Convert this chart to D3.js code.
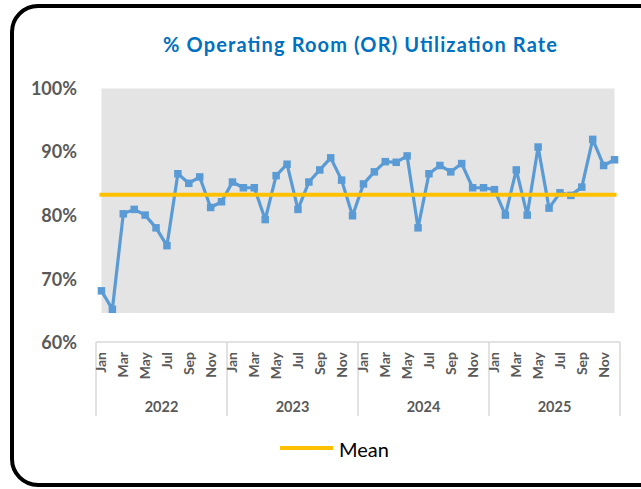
<!DOCTYPE html>
<html><head><meta charset="utf-8">
<script src="https://cdn.jsdelivr.net/npm/d3@7"></script>
<style>
html,body{margin:0;padding:0;background:#fff;}
svg{display:block;}
</style></head>
<body>
<svg id="c" width="641" height="489"></svg>
<script>
const years = ["2022","2023","2024","2025"];
const months = ["Jan","Feb","Mar","Apr","May","Jun","Jul","Aug","Sep","Oct","Nov","Dec"];
const utilization = [
  68.2,65.3,80.3,81.0,80.1,78.1,75.3,86.6,85.1,86.1,81.3,82.2,
  85.3,84.4,84.4,79.4,86.3,88.1,81.0,85.3,87.2,89.1,85.6,80.0,
  85.0,86.9,88.5,88.4,89.4,78.1,86.6,87.9,86.9,88.2,84.4,84.4,
  84.1,80.1,87.2,80.1,90.8,81.2,83.6,83.2,84.5,92.0,87.9,88.8
];
const meanValue = 83.3;
const bandTop = 100;
const bandBottom = 64.7;
const yTicks = [60,70,80,90,100];
const title = "% Operating Room (OR) Utilization Rate";
const legendLabel = "Mean";

const svg = d3.select("#c");
const font = "Lato, 'Open Sans', sans-serif";

// frame
svg.append("rect").attr("x",12).attr("y",6).attr("width",660).attr("height",479)
  .attr("rx",26).attr("ry",26).attr("fill","#fff").attr("stroke","#000").attr("stroke-width",4);

const idx = d3.range(years.length*12);
const x = d3.scaleBand().domain(idx).range([96,620]).padding(0);
const cx = i => x(i) + x.bandwidth()/2;
const y = d3.scaleLinear().domain([60,100]).range([343,88.5]);

// title
svg.append("text").attr("x",360).attr("y",52).attr("text-anchor","middle")
  .attr("font-family",font).attr("font-weight","bold").attr("font-size",20)
  .attr("textLength",394).attr("lengthAdjust","spacing")
  .attr("fill","#0070C0").text(title);

// background area
svg.append("path").datum(idx)
  .attr("d", d3.area().x(i=>cx(i)).y0(()=>y(bandBottom)).y1(()=>y(bandTop)))
  .attr("fill","#E4E4E4");

// y axis labels
const yAxis = d3.axisLeft(y).tickValues(yTicks).tickFormat(d=>d+"%").tickSize(0).tickPadding(0);
const gy = svg.append("g").attr("transform","translate(77,0)").call(yAxis);
gy.select(".domain").remove();
gy.selectAll("text").attr("font-family",font).attr("font-weight","bold")
  .attr("font-size",18).attr("fill","#595959");

// x axis line
const gx = svg.append("g");
gx.append("line").attr("x1",96).attr("x2",620).attr("y1",342).attr("y2",342)
  .attr("stroke","#D9D9D9").attr("stroke-width",1.5);
// year separators
d3.range(years.length+1).forEach(k=>{
  const xx = k<years.length ? x(k*12) : x(47)+x.bandwidth();
  gx.append("line").attr("x1",xx).attr("x2",xx).attr("y1",342).attr("y2",416)
    .attr("stroke","#D9D9D9").attr("stroke-width",1.5);
});
// month labels (every other)
idx.forEach(i=>{
  if (i%2!==0) return;
  gx.append("text").attr("transform",`translate(${cx(i)+5},352) rotate(-90)`)
    .attr("text-anchor","end").attr("font-family",font).attr("font-weight","bold")
    .attr("font-size",14).attr("fill","#595959").text(months[i%12]);
});
// year labels
years.forEach((yr,k)=>{
  const xm = (x(k*12) + x(k*12+11)+x.bandwidth())/2;
  gx.append("text").attr("x",xm).attr("y",412).attr("text-anchor","middle")
    .attr("font-family",font).attr("font-weight","bold").attr("font-size",14.5)
    .attr("fill","#595959").text(yr);
});

// data line
svg.append("path").datum(utilization)
  .attr("d", d3.line().x((d,i)=>cx(i)).y(d=>y(d)))
  .attr("fill","none").attr("stroke","#5B9BD5").attr("stroke-width",3.2).attr("stroke-linejoin","round");
svg.append("g").selectAll("rect").data(utilization).join("rect")
  .attr("x",(d,i)=>cx(i)-3.75).attr("y",d=>y(d)-3.75).attr("width",7.5).attr("height",7.5)
  .attr("fill","#5B9BD5");

// mean line
svg.append("line").attr("x1",cx(0)-2).attr("x2",cx(47)+2)
  .attr("y1",y(meanValue)).attr("y2",y(meanValue))
  .attr("stroke","#FFC000").attr("stroke-width",4);

// legend
svg.append("line").attr("x1",280).attr("x2",333).attr("y1",448).attr("y2",448)
  .attr("stroke","#FFC000").attr("stroke-width",4);
svg.append("text").attr("x",339).attr("y",457).attr("font-family",font)
  .attr("font-size",20).attr("fill","#000").text(legendLabel);
</script>
</body></html>
